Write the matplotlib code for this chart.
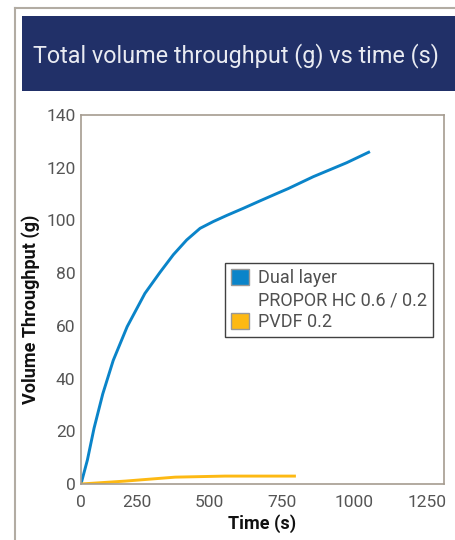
import matplotlib
matplotlib.use("Agg")
import matplotlib.pyplot as plt
from matplotlib.patches import Patch, Rectangle
from matplotlib.lines import Line2D
import matplotlib.transforms as mtransforms

# ---- data ----
dual_t = [0, 22, 45, 75, 111, 159, 220, 272, 318, 364, 410, 456, 502, 559, 616, 674, 714, 800, 915, 995]
dual_v = [0, 9.1, 21.2, 34.2, 46.9, 59.7, 72.3, 80.3, 87.0, 92.6, 97.0, 99.6, 101.9, 104.6, 107.4, 110.2, 112.1, 116.6, 121.9, 126.1]
pvdf_t = [0, 152, 324, 496, 740]
pvdf_v = [0, 1.1, 2.6, 3.0, 3.0]
x_ticks = [0, 250, 500, 750, 1000, 1250]
y_ticks = [0, 20, 40, 60, 80, 100, 120, 140]
title = "Total volume throughput (g) vs time (s)"
legend_labels = ["Dual layer", "PROPOR HC 0.6 / 0.2", "PVDF 0.2"]

BLUE = "#0a84c9"
YELLOW = "#fdb913"
NAVY = "#213068"
SPINE = "#a59c90"
FONT = ["Roboto", "DejaVu Sans"]

plt.rcParams["font.family"] = FONT

W, H = 455, 540
fig = plt.figure(figsize=(W / 100, H / 100), dpi=100)

# outer frame lines
fig.add_artist(Line2D([15 / W, 15 / W], [0, 1 - 8 / H], color="#b2aca3", lw=1.5, transform=fig.transFigure))
fig.add_artist(Line2D([15 / W, 1], [1 - 8 / H, 1 - 8 / H], color="#b2aca3", lw=1.5, transform=fig.transFigure))

# title banner
fig.add_artist(Rectangle((22 / W, 1 - 91 / H), (W - 22) / W, 75 / H, transform=fig.transFigure,
                         facecolor=NAVY, edgecolor="none"))
fig.text(236 / W, 1 - 56 / H, title, color="#e9ebf2", fontsize=16.8, ha="center", va="center",
         fontweight="normal")

ax = fig.add_axes([81 / W, 1 - 484 / H, 363 / W, 369 / H])
ax.plot(dual_t, dual_v, color=BLUE, lw=2.1, solid_capstyle="butt", solid_joinstyle="round")
ax.plot(pvdf_t, pvdf_v, color=YELLOW, lw=2.1, solid_capstyle="butt", solid_joinstyle="round")

ax.set_xlim(0, 1250)
ax.set_ylim(0, 140)
ax.set_xticks(x_ticks)
ax.set_yticks(y_ticks)
ax.tick_params(length=0, labelsize=12.5, labelcolor="#555555")
ax.tick_params(axis="x", pad=8)
ax.tick_params(axis="y", pad=4)
for s in ax.spines.values():
    s.set_color(SPINE)
    s.set_linewidth(1.2)

# shift x labels (except the first) to the left as in the reference
off = mtransforms.ScaledTranslation(-17 / 100, 0, fig.dpi_scale_trans)
for lbl in ax.get_xticklabels()[1:]:
    lbl.set_transform(lbl.get_transform() + off)

ax.set_xlabel("Time (s)", fontsize=13, fontweight="bold", color="#111111", labelpad=3)
ax.set_ylabel("Volume Throughput (g)", fontsize=13, fontweight="bold", color="#111111")
ax.yaxis.set_label_coords(-0.112, 0.474)

handles = [Patch(facecolor=BLUE, edgecolor="#999999"),
           Patch(facecolor="none", edgecolor="none"),
           Patch(facecolor=YELLOW, edgecolor="#999999")]
leg = ax.legend(handles, legend_labels, loc="upper left", bbox_to_anchor=(0.397, 0.599),
                borderaxespad=0, frameon=True, fancybox=False, fontsize=13,
                handlelength=1.0, handleheight=1.0, handletextpad=0.5,
                labelspacing=0.2, borderpad=0.33, labelcolor="#505050")
leg.get_frame().set_edgecolor("#111111")
leg.get_frame().set_linewidth(1.0)

fig.savefig("out.png", dpi=100)
